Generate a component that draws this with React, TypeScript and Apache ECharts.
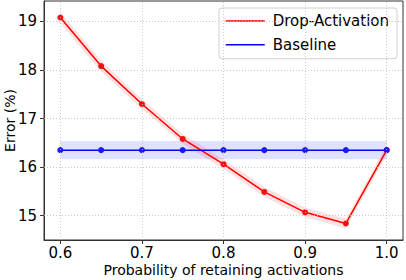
import React, { useEffect, useRef } from "react";
import * as echarts from "echarts";

const xValues = [0.6, 0.65, 0.7, 0.75, 0.8, 0.85, 0.9, 0.95, 1.0];
const dropActivation = [19.08, 18.08, 17.3, 16.58, 16.06, 15.49, 15.07, 14.84, 16.35];
const dropStd = [0.12, 0.11, 0.1, 0.1, 0.1, 0.1, 0.1, 0.1, 0.1];
const baseline = [16.35, 16.35, 16.35, 16.35, 16.35, 16.35, 16.35, 16.35, 16.35];
const baseStd = [0.19, 0.19, 0.19, 0.19, 0.19, 0.19, 0.19, 0.19, 0.19];
const xTicks = [0.6, 0.7, 0.8, 0.9, 1.0];
const yTicks = [15, 16, 17, 18, 19];

const FONT = "DejaVu Sans";

function bandSeries(name: string, mean: number[], std: number[], color: string) {
  const data = xValues.map((x, i) => [x, mean[i] - std[i], mean[i] + std[i]]);
  return {
    type: "custom",
    name,
    silent: true,
    clip: true,
    z: 1,
    encode: { x: 0, y: [1, 2] },
    data,
    renderItem: (params: any, api: any) => {
      if (params.dataIndex !== 0) return null;
      const upper = data.map((d) => api.coord([d[0], d[2]]));
      const lower = data.map((d) => api.coord([d[0], d[1]])).reverse();
      return {
        type: "polygon",
        shape: { points: upper.concat(lower) },
        style: { fill: color, stroke: "none" },
      };
    },
  };
}

export default function App() {
  const ref = useRef<HTMLDivElement>(null);
  useEffect(() => {
    if (!ref.current) return;
    const chart = echarts.init(ref.current, null, { renderer: "svg" });
    const gridStyle = { type: [1, 2], color: "#bdbdbd", width: 0.8 };
    chart.setOption({
      animation: false,
      textStyle: { fontFamily: FONT },
      grid: {
        left: 44,
        right: 3,
        top: 1,
        bottom: 40,
        containLabel: false,
        outerBoundsMode: "none",
        show: true,
        borderColor: "#333",
        borderWidth: 1,
        backgroundColor: "transparent",
      },
      legend: {
        data: ["Drop-Activation", "Baseline"],
        orient: "vertical",
        right: 9,
        top: 8,
        padding: [5, 8, 6, 6],
        itemGap: 7.7,
        itemWidth: 39,
        itemHeight: 15,
        itemStyle: { opacity: 0 },
        lineStyle: { width: 1.5, opacity: 1 },
        backgroundColor: "rgba(255,255,255,0.85)",
        borderColor: "#d0d0d0",
        borderWidth: 1,
        borderRadius: 3,
        textStyle: { fontFamily: FONT, fontSize: 15, color: "#000", lineHeight: 16, padding: [0, 0, 0, 3] },
      },
      xAxis: {
        type: "value",
        min: 0.58,
        max: 1.02,
        name: "Probability of retaining activations",
        nameLocation: "middle",
        nameGap: 23,
        nameMoveOverlap: false,
        nameTextStyle: { fontFamily: FONT, fontSize: 14, color: "#000" },
        axisLine: { show: true, onZero: false, lineStyle: { color: "#333", width: 1 } },
        axisTick: { show: true, length: 4, lineStyle: { color: "#333" }, customValues: xTicks },
        axisLabel: {
          customValues: xTicks,
          margin: 5,
          fontFamily: FONT,
          fontSize: 15,
          color: "#000",
          formatter: (v: number) => v.toFixed(1),
        },
        splitLine: { show: false },
      },
      yAxis: {
        type: "value",
        min: 14.5,
        max: 19.42,
        name: "Error (%)",
        nameLocation: "middle",
        nameGap: 27,
        nameMoveOverlap: false,
        nameTextStyle: { fontFamily: FONT, fontSize: 14, color: "#000" },
        axisLine: { show: true, onZero: false, lineStyle: { color: "#333", width: 1 } },
        axisTick: { show: true, length: 4, lineStyle: { color: "#333" }, customValues: yTicks },
        axisLabel: {
          customValues: yTicks,
          margin: 7,
          fontFamily: FONT,
          fontSize: 15,
          color: "#000",
          formatter: (v: number) => String(Math.round(v)),
        },
        splitLine: { show: false },
      },
      series: [
        bandSeries("baseBand", baseline, baseStd, "rgba(0,0,255,0.12)"),
        bandSeries("dropBand", dropActivation, dropStd, "rgba(255,0,0,0.12)"),
        {
          type: "line",
          name: "gridlines",
          data: [],
          silent: true,
          z: 0,
          markLine: {
            silent: true,
            symbol: ["none", "none"],
            label: { show: false },
            lineStyle: gridStyle,
            data: [
              ...xTicks.map((v) => ({ xAxis: v })),
              ...yTicks.map((v) => ({ yAxis: v })),
            ],
          },
        },
        {
          type: "line",
          name: "Drop-Activation",
          data: xValues.map((x, i) => [x, dropActivation[i]]),
          z: 3,
          color: "#ff0000",
          lineStyle: { color: "#ff0000", width: 1.5 },
          symbol: "circle",
          symbolSize: 6,
          itemStyle: { color: "#f01010" },
        },
        {
          type: "line",
          name: "Baseline",
          data: xValues.map((x, i) => [x, baseline[i]]),
          z: 4,
          color: "#0000ff",
          lineStyle: { color: "#0000ff", width: 1.5 },
          symbol: "circle",
          symbolSize: 6,
          itemStyle: { color: "#1a1aee" },
        },
      ],
    });
    return () => chart.dispose();
  }, []);
  return <div ref={ref} style={{ width: 406, height: 280, position: "absolute", left: 0, top: 0 }} />;
}
